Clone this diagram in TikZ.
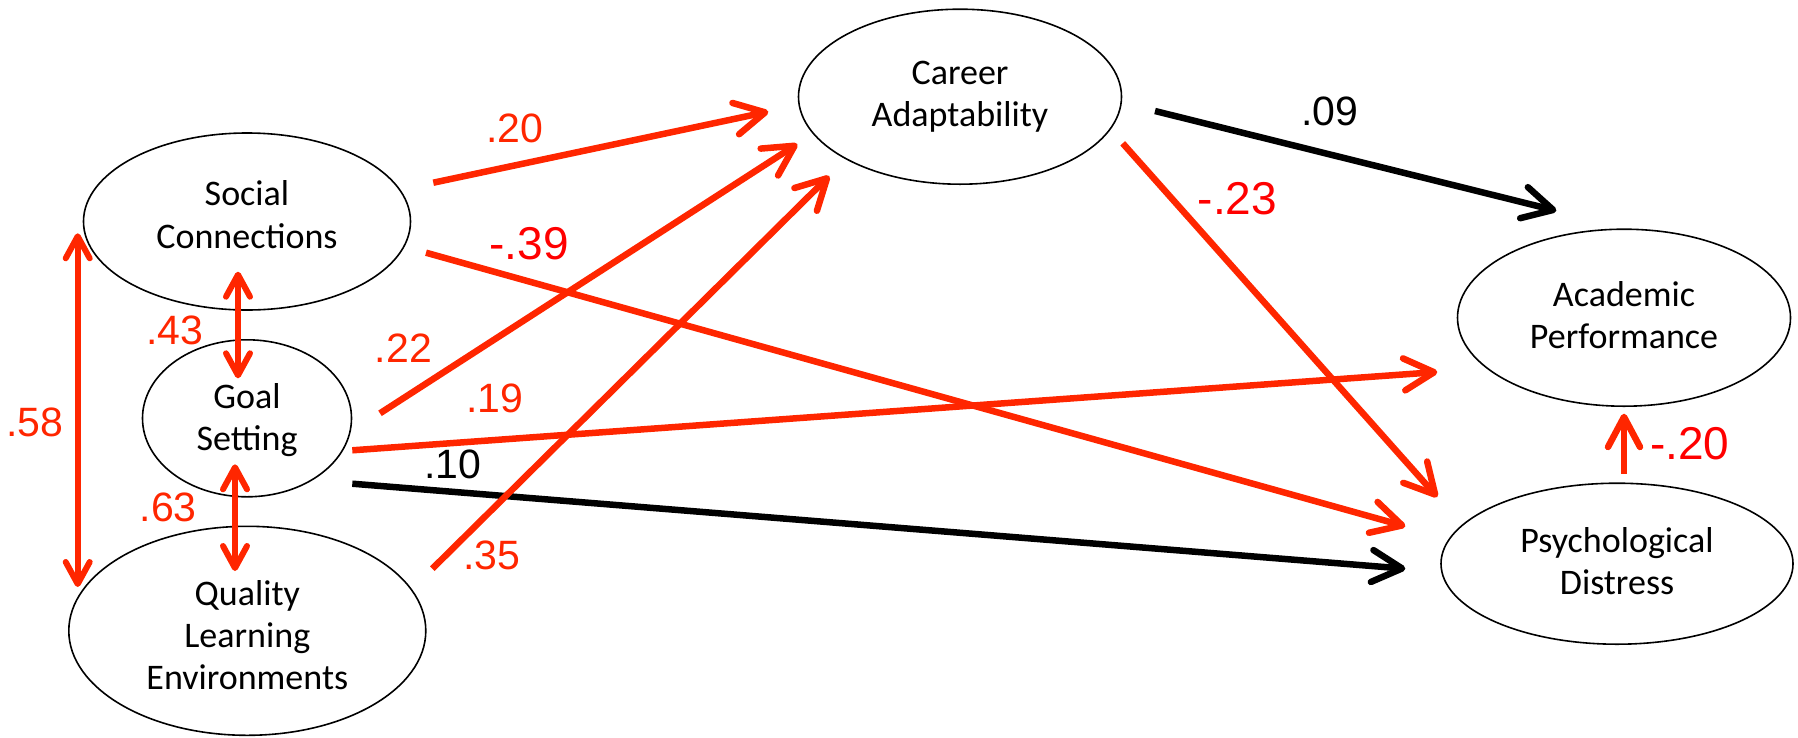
\documentclass[tikz,border=0pt]{standalone}
\usepackage{fontspec}
\setmainfont{Carlito}
\newfontfamily\numfont{Liberation Sans}
\usetikzlibrary{arrows.meta,shapes.geometric}

\definecolor{pathred}{RGB}{255,38,0}
\definecolor{negred}{RGB}{255,0,0}

\begin{document}
\begin{tikzpicture}[x=1pt,y=-1pt,
  latent/.style={ellipse, draw=black, line width=1.6pt, inner sep=0pt,
    align=center, font=\fontsize{36}{42.3}\selectfont},
  effect/.style={line width=6.5pt,
    -{Straight Barb[length=30pt,width=32pt,round]}},
  corr/.style={line width=6pt,
    {Straight Barb[length=22pt,width=24pt,round]}-{Straight Barb[length=22pt,width=24pt,round]}},
  coef/.style={font=\numfont\fontsize{41}{48}\selectfont, inner sep=0pt},
  negcoef/.style={font=\numfont\fontsize{46}{54}\selectfont, inner sep=0pt, text=negred},
]
\useasboundingbox (0,0) rectangle (1798,737);

% latent variables (struts trim the vertical placement of the text)
\node[latent, minimum width=327pt, minimum height=177pt] (soc)  at (247,221.5)  {Social\\Connections\rule[-14pt]{0pt}{14pt}};
\node[latent, minimum width=209pt, minimum height=157pt] (goal) at (247,418.3)  {\rule{0pt}{29pt}Goal\\Setting};
\node[latent, minimum width=357pt, minimum height=209pt] (qle)  at (247.3,630.8) {\rule{0pt}{34pt}Quality\\Learning\\Environments};
\node[latent, minimum width=323pt, minimum height=175pt] (car)  at (960,96.7)   {Career\\Adaptability};
\node[latent, minimum width=333pt, minimum height=177pt] (acad) at (1624,317.7) {Academic\\Performance\rule[-6pt]{0pt}{6pt}};
\node[latent, minimum width=352pt, minimum height=161pt] (psy)  at (1617,563.7) {Psychological\\Distress\rule[-6pt]{0pt}{6pt}};

% end points of the paths
\coordinate (soc-r58)  at (77.7,233.3);  \coordinate (qle-r58)  at (77.7,587);
\coordinate (soc-r43)  at (238,271.7);   \coordinate (goal-r43) at (238,378.3);
\coordinate (goal-r63) at (235,464.3);   \coordinate (qle-r63)  at (235,571);
\coordinate (soc-o1)   at (433.3,182.7); \coordinate (car-i1)   at (768.3,111.7);
\coordinate (goal-o1)  at (380,413.3);   \coordinate (car-i2)   at (797.3,144);
\coordinate (qle-o1)   at (432.3,568.7); \coordinate (car-i3)   at (829.3,176);
\coordinate (soc-o2)   at (426,252.7);   \coordinate (psy-i1)   at (1405.3,526.3);
\coordinate (goal-o2)  at (352.3,450.3); \coordinate (acad-i1)  at (1437.3,372);
\coordinate (goal-o3)  at (352.3,483.7); \coordinate (psy-i2)   at (1405.3,568.7);
\coordinate (car-o1)   at (1155,111);    \coordinate (acad-i2)  at (1556.3,210.7);
\coordinate (car-o2)   at (1122.7,143.3);\coordinate (psy-i3)   at (1437.3,497);
\coordinate (psy-o1)   at (1624,473.7);  \coordinate (acad-i3)  at (1624,413.7);

% correlations
\draw[corr, pathred] (soc-r58) -- (qle-r58);
\draw[corr, pathred] (soc-r43) -- (goal-r43);
\draw[corr, pathred] (goal-r63) -- (qle-r63);

% structural paths
\draw[effect, black]   (goal-o3) -- (psy-i2);
\draw[effect, pathred] (goal-o2) -- (acad-i1);
\draw[effect, pathred] (soc-o2)  -- (psy-i1);
\draw[effect, pathred] (soc-o1)  -- (car-i1);
\draw[effect, pathred] (goal-o1) -- (car-i2);
\draw[effect, pathred] (qle-o1)  -- (car-i3);
\draw[effect, black]   (car-o1)  -- (acad-i2);
\draw[effect, pathred] (car-o2)  -- (psy-i3);
\draw[effect, pathred] (psy-o1)  -- (acad-i3);

% coefficients
\node[coef, text=pathred] (k58) at (35,422)      {.58};
\node[coef, text=pathred] (k43) at (175,330)     {.43};
\node[coef, text=pathred] (k63) at (168.3,507)   {.63};
\node[coef, text=pathred] (k20) at (515,128.3)   {.20};
\node[negcoef]            (k39) at (529.3,243.3) {-.39};
\node[coef, text=pathred] (k22) at (403.3,348.3) {.22};
\node[coef, text=pathred] (k19) at (495,398.5)   {.19};
\node[coef, text=black]   (k10) at (453,464)     {.10};
\node[coef, text=pathred] (k35) at (491.7,555.3) {.35};
\node[coef, text=black]   (k09) at (1330,111)    {.09};
\node[negcoef]            (k23) at (1237.3,198.3){-.23};
\node[negcoef]            (k2n) at (1689.7,443.7){-.20};
\end{tikzpicture}
\end{document}
